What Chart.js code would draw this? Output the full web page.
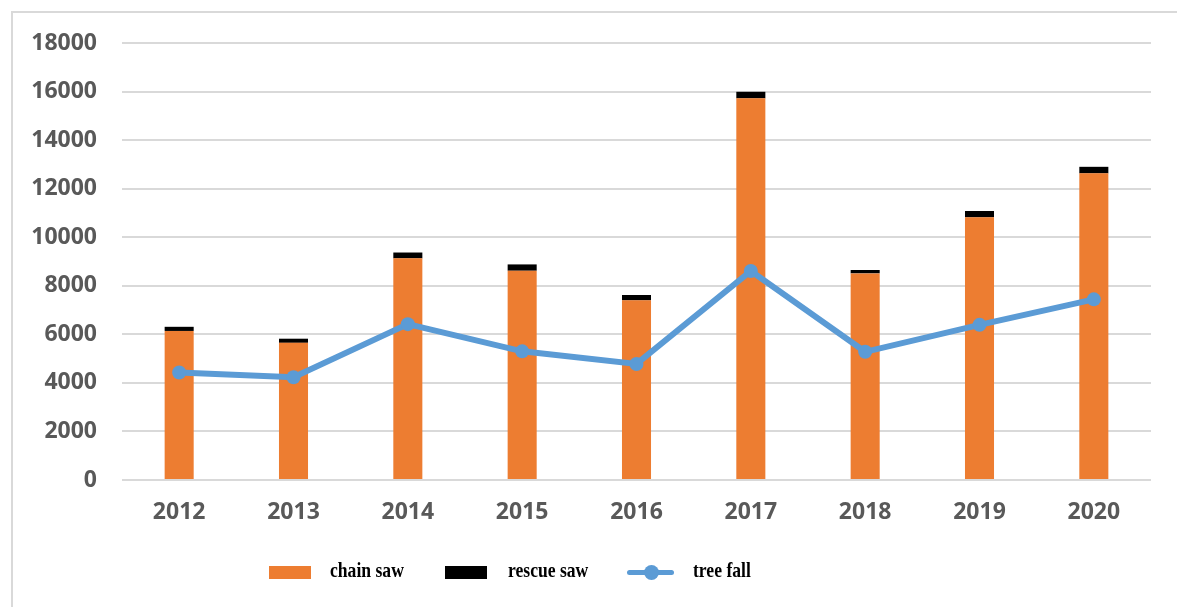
<!DOCTYPE html>
<html>
<head>
<meta charset="utf-8">
<script src="https://cdn.jsdelivr.net/npm/chart.js@4.4.1/dist/chart.umd.min.js"></script>
<style>
  html, body { margin: 0; padding: 0; background: #fff; }
  body { width: 1177px; height: 607px; position: relative; overflow: hidden; }
  #frame { position: absolute; left: 11px; top: 11px; width: 1220px; height: 700px; border: 2px solid #d9d9d9; box-sizing: border-box; }
  #wrap { position: absolute; left: 0; top: 0; width: 1177px; height: 607px; }
  .lg-box { position: absolute; top: 566px; width: 42px; height: 13px; }
  .lg-text { position: absolute; top: 557px; line-height: 22px; font: bold 22px "Liberation Serif", serif; color: #000;
             transform: scaleX(0.8); transform-origin: left center; white-space: nowrap; }
  .lg-line { position: absolute; left: 627px; top: 570px; width: 47px; height: 5px; background: #5b9bd5; border-radius: 3px; }
  .lg-dot { position: absolute; left: 644px; top: 565px; width: 15px; height: 15px; background: #5b9bd5; border-radius: 50%; }
</style>
</head>
<body>
<div id="frame"></div>
<div id="wrap"><canvas id="chart" width="1177" height="607"></canvas></div>

<div class="lg-box" style="left:269px;background:#ed7d31"></div>
<div class="lg-text" style="left:330px">chain saw</div>
<div class="lg-box" style="left:445px;background:#000"></div>
<div class="lg-text" style="left:508px">rescue saw</div>
<div class="lg-line"></div>
<div class="lg-dot"></div>
<div class="lg-text" style="left:693px">tree fall</div>

<script>
const years = ['2012', '2013', '2014', '2015', '2016', '2017', '2018', '2019', '2020'];
const chainSaw = [6140, 5650, 9130, 8620, 7400, 15720, 8510, 10820, 12630];
const rescueSaw = [170, 170, 240, 260, 220, 270, 140, 260, 270];
const treeFall = [4430, 4230, 6420, 5300, 4780, 8610, 5280, 6390, 7440];

const tickFont = { family: "'Open Sans', sans-serif", size: 23, weight: 'bold' };
const tickColor = '#595959';

const ctx = document.getElementById('chart').getContext('2d');

new Chart(ctx, {
  data: {
    labels: years,
    datasets: [
      {
        type: 'line',
        label: 'tree fall',
        data: treeFall,
        stack: 'line',
        order: 0,
        borderColor: '#5b9bd5',
        backgroundColor: '#5b9bd5',
        borderWidth: 6,
        pointRadius: 7,
        pointBackgroundColor: '#5b9bd5',
        pointBorderColor: '#5b9bd5',
        pointBorderWidth: 0,
        tension: 0,
        fill: false
      },
      {
        type: 'bar',
        label: 'chain saw',
        data: chainSaw,
        stack: 'saws',
        order: 1,
        backgroundColor: '#ed7d31',
        barPercentage: 0.254,
        categoryPercentage: 1
      },
      {
        type: 'bar',
        label: 'rescue saw',
        data: rescueSaw,
        stack: 'saws',
        order: 1,
        backgroundColor: '#000000',
        barPercentage: 0.254,
        categoryPercentage: 1
      }
    ]
  },
  options: {
    responsive: false,
    animation: false,
    layout: { padding: { top: 43, right: 26, bottom: 0, left: 0 } },
    plugins: {
      legend: { display: false },
      tooltip: { enabled: false }
    },
    scales: {
      x: {
        stacked: true,
        grid: { display: false, drawTicks: false },
        border: { display: false },
        ticks: { color: tickColor, font: tickFont, padding: 19, maxRotation: 0 },
        afterFit: scale => { scale.height = 127; }
      },
      y: {
        stacked: true,
        min: 0,
        max: 18000,
        grid: { color: '#d9d9d9', lineWidth: 2, drawTicks: false },
        border: { display: false },
        ticks: {
          stepSize: 2000,
          color: tickColor,
          font: tickFont,
          padding: 25,
          callback: v => String(v)
        },
        afterFit: scale => { scale.width = 122; }
      }
    }
  }
});
</script>
</body>
</html>
